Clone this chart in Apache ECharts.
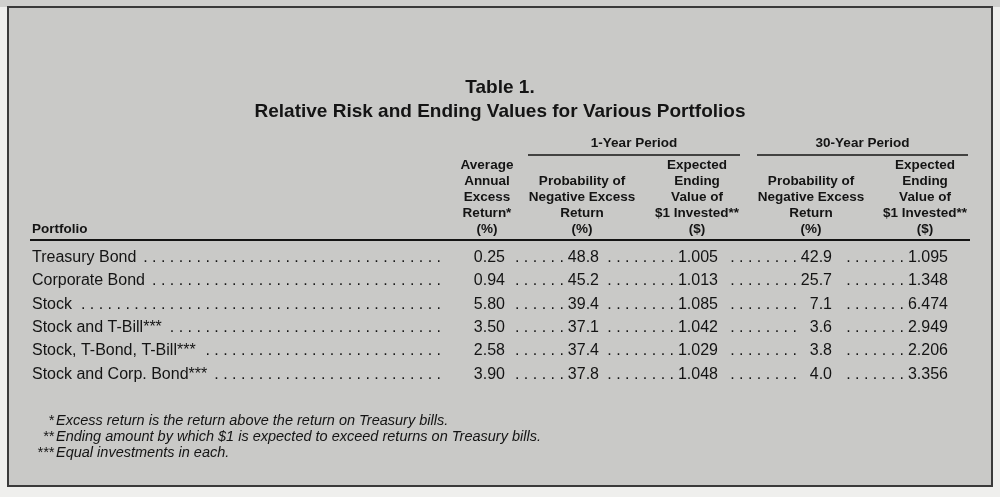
<!DOCTYPE html>
<html>
<head>
<meta charset="utf-8">
<title>Table 1</title>
<script src="https://cdn.jsdelivr.net/npm/echarts@6/dist/echarts.min.js"></script>
<style>
    html, body { margin: 0; padding: 0; background: #efefed; }
    #tableChart { width: 1000px; height: 497px; }
</style>
</head>
<body>
<div id="tableChart"></div>
<script>
// table data
var portfolios = ['Treasury Bond', 'Corporate Bond', 'Stock', 'Stock and T-Bill***', 'Stock, T-Bond, T-Bill***', 'Stock and Corp. Bond***'];
var avgExcessReturn = [0.25, 0.94, 5.80, 3.50, 2.58, 3.90];
var negProb1y = [48.8, 45.2, 39.4, 37.1, 37.4, 37.8];
var endValue1y = [1.005, 1.013, 1.085, 1.042, 1.029, 1.048];
var negProb30y = [42.9, 25.7, 7.1, 3.6, 3.8, 4.0];
var endValue30y = [1.095, 1.348, 6.474, 2.949, 2.206, 3.356];

var columnHeaders = [
    ['Average', 'Annual', 'Excess', 'Return*', '(%)'],
    ['Probability of', 'Negative Excess', 'Return', '(%)'],
    ['Expected', 'Ending', 'Value of', '$1 Invested**', '($)'],
    ['Probability of', 'Negative Excess', 'Return', '(%)'],
    ['Expected', 'Ending', 'Value of', '$1 Invested**', '($)']
];
var periodLabels = ['1-Year Period', '30-Year Period'];
var footnoteMarks = ['*', '**', '***'];
var footnotes = [
    'Excess return is the return above the return on Treasury bills.',
    'Ending amount by which $1 is expected to exceed returns on Treasury bills.',
    'Equal investments in each.'
];

// layout (x values on a hidden 0..1000 axis)
var decimals = [2, 1, 3, 1, 3];
var colRight = [505, 599, 718, 832, 948];
var colCenter = [487, 582, 697, 811, 925];
var periodCols = [[1, 2], [3, 4]];
var NAME_X = 32;
var NAME_LEADER_END = 441;
var FONT = 'Liberation Sans, Arial, Helvetica, sans-serif';
var INK = '#141414';
var BODY_SIZE = 16;
var HEAD_SIZE = 13.5;
var FOOT_SIZE = 14.5;

var measureCtx = document.createElement('canvas').getContext('2d');
function textWidth(str, size, weight) {
    measureCtx.font = (weight || 'normal') + ' ' + size + 'px ' + FONT;
    return measureCtx.measureText(str).width;
}
var dotPair = textWidth('. ', BODY_SIZE);
var dotSpace = textWidth(' ', BODY_SIZE);
function leader(width) {
    var n = Math.floor((width + dotSpace) / dotPair);
    if (n < 1) return '';
    return new Array(n).fill('.').join(' ');
}

var columns = [avgExcessReturn, negProb1y, endValue1y, negProb30y, endValue30y];
var colMaxWidth = columns.map(function (col, j) {
    return Math.max.apply(null, col.map(function (v) {
        return textWidth(v.toFixed(decimals[j]), BODY_SIZE);
    }));
});

var rowData = portfolios.map(function (p, i) {
    return [0, i, avgExcessReturn[i], negProb1y[i], endValue1y[i], negProb30y[i], endValue30y[i]];
});
var headerData = columnHeaders.map(function (h, j) {
    return [colCenter[j], 0];
});

function txt(str, x, y, align, size, weight, vAlign, extra) {
    var style = {
        text: str,
        x: x,
        y: y,
        align: align,
        verticalAlign: vAlign || 'middle',
        fontFamily: FONT,
        fontSize: size,
        fontWeight: weight || 'normal',
        fill: INK
    };
    if (extra) {
        for (var k in extra) style[k] = extra[k];
    }
    return { type: 'text', style: style };
}

function renderRow(params, api) {
    var i = params.dataIndex;
    var rowY = api.coord([0, i])[1];
    var children = [];
    var nameX = api.coord([NAME_X, i])[0];
    var leaderEnd = api.coord([NAME_LEADER_END, i])[0];
    var nameEnd = nameX + textWidth(portfolios[i], BODY_SIZE) + 6;
    children.push(txt(portfolios[i], nameX, rowY, 'left', BODY_SIZE));
    children.push(txt(leader(leaderEnd - nameEnd), leaderEnd, rowY, 'right', BODY_SIZE));
    for (var j = 0; j < 5; j++) {
        var x = api.coord([colRight[j], i])[0];
        var v = api.value(j + 2);
        children.push(txt(v.toFixed(decimals[j]), x, rowY, 'right', BODY_SIZE));
        if (j > 0) {
            var start = api.coord([colRight[j - 1], i])[0] + (j === 1 ? 2 : 8);
            var end = x - colMaxWidth[j] - 4;
            children.push(txt(leader(end - start), end, rowY, 'right', BODY_SIZE));
        }
    }
    return { type: 'group', children: children };
}

function renderHeader(params, api) {
    var j = params.dataIndex;
    var top = params.coordSys.y;
    var x = api.coord([api.value(0), 0])[0];
    var children = [];
    children.push(txt(columnHeaders[j].join('\n'), x, top - 9, 'center', HEAD_SIZE, 'bold', 'bottom', { lineHeight: 16 }));
    if (j === 0) {
        children.push(txt('Portfolio', api.coord([NAME_X, 0])[0], top - 9, 'left', HEAD_SIZE, 'bold', 'bottom', { lineHeight: 16 }));
        children.push({
            type: 'line',
            shape: { x1: api.coord([30, 0])[0], y1: top - 6, x2: api.coord([970, 0])[0], y2: top - 6 },
            style: { stroke: INK, lineWidth: 2 }
        });
    }
    periodCols.forEach(function (pc, k) {
        if (pc[0] !== j) return;
        var x1 = api.coord([colCenter[pc[0]] - 54, 0])[0];
        var x2 = api.coord([colCenter[pc[1]] + 43, 0])[0];
        children.push(txt(periodLabels[k], (x1 + x2) / 2, top - 103, 'center', HEAD_SIZE, 'bold'));
        children.push({
            type: 'line',
            shape: { x1: x1, y1: top - 91, x2: x2, y2: top - 91 },
            style: { stroke: INK, lineWidth: 1.5 }
        });
    });
    return { type: 'group', children: children };
}

var footGraphics = [];
footnotes.forEach(function (f, k) {
    var y = 421 + k * 16;
    footGraphics.push({
        type: 'text', x: 54, y: y,
        style: { text: footnoteMarks[k], align: 'right', verticalAlign: 'middle', fontFamily: FONT, fontStyle: 'italic', fontSize: FOOT_SIZE, fill: INK }
    });
    footGraphics.push({
        type: 'text', x: 56, y: y,
        style: { text: f, align: 'left', verticalAlign: 'middle', fontFamily: FONT, fontStyle: 'italic', fontSize: FOOT_SIZE, fill: INK }
    });
});

var tableChart = echarts.init(document.getElementById('tableChart'));
var option = {
    backgroundColor: '#efefed',
    animation: false,
    title: {
        text: 'Table 1.',
        subtext: 'Relative Risk and Ending Values for Various Portfolios',
        left: 'center',
        top: 77,
        padding: 0,
        itemGap: 2,
        textStyle: { fontFamily: FONT, fontSize: 19, fontWeight: 'bold', color: INK, lineHeight: 22 },
        subtextStyle: { fontFamily: FONT, fontSize: 19, fontWeight: 'bold', color: INK, lineHeight: 22 }
    },
    graphic: [
        {
            type: 'rect', z: -10, silent: true,
            shape: { x: 0, y: 0, width: 1000, height: 7 },
            style: { fill: '#cfcfcd' }
        },
        {
            type: 'rect', z: -9, silent: true,
            shape: { x: 8, y: 7, width: 984, height: 479 },
            style: { fill: '#c9c9c7', stroke: '#3a3a3a', lineWidth: 2 }
        }
    ].concat(footGraphics),
    grid: { left: 0, right: 0, top: 246, height: 140 },
    xAxis: { type: 'value', min: 0, max: 1000, show: false },
    yAxis: { type: 'category', data: portfolios, inverse: true, show: false },
    series: [
        {
            type: 'custom',
            name: 'rows',
            clip: false,
            silent: true,
            renderItem: renderRow,
            encode: { x: 0, y: 1 },
            data: rowData
        },
        {
            type: 'custom',
            name: 'headers',
            clip: false,
            silent: true,
            renderItem: renderHeader,
            encode: { x: 0, y: 1 },
            data: headerData
        }
    ]
};
tableChart.setOption(option);
window.addEventListener('resize', function () {
    tableChart.resize();
});
</script>
</body>
</html>
